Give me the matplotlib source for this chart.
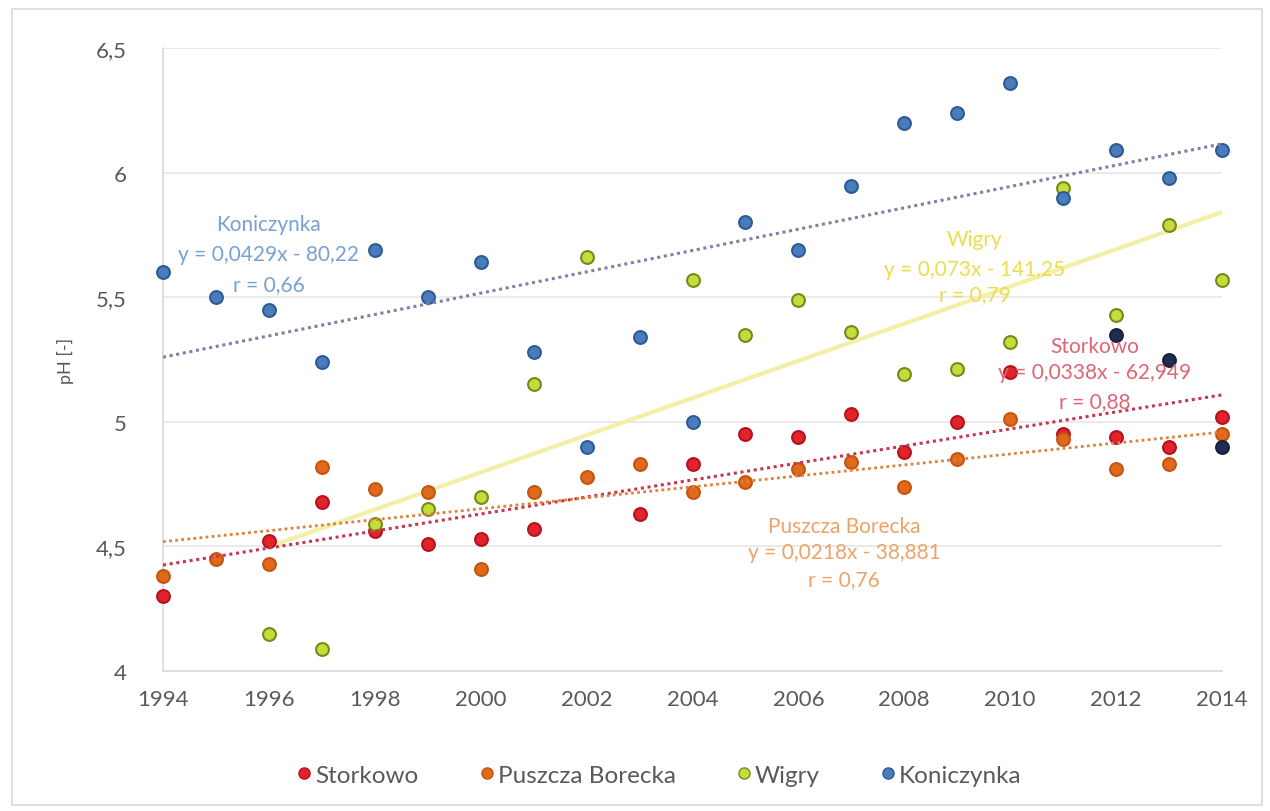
import numpy as np
import matplotlib
matplotlib.use("Agg")
import matplotlib.pyplot as plt
from matplotlib.lines import Line2D
from matplotlib.patches import Rectangle

plt.rcParams['font.family'] = ['Lato', 'DejaVu Sans']

# pH of precipitation at four monitoring stations, 1994-2014
storkowo_years = list(range(1994, 2015))
storkowo_ph = [4.30, None, 4.52, 4.68, 4.56, 4.51, 4.53, 4.57, None, 4.63, 4.83,
               4.95, 4.94, 5.03, 4.88, 5.00, 5.20, 4.95, 4.94, 4.90, 5.02]

borecka_years = list(range(1994, 2015))
borecka_ph = [4.38, 4.45, 4.43, 4.82, 4.73, 4.72, 4.41, 4.72, 4.78, 4.83, 4.72,
              4.76, 4.81, 4.84, 4.74, 4.85, 5.01, 4.93, 4.81, 4.83, 4.95]

wigry_years = [1996, 1997, 1998, 1999, 2000, 2001, 2002, 2004, 2005, 2006,
               2007, 2008, 2009, 2010, 2011, 2012, 2013, 2014]
wigry_ph = [4.15, 4.09, 4.59, 4.65, 4.70, 5.15, 5.66, 5.57, 5.35, 5.49,
            5.36, 5.19, 5.21, 5.32, 5.94, 5.43, 5.79, 5.57]

koniczynka_years = list(range(1994, 2015))
koniczynka_ph = [5.60, 5.50, 5.45, 5.24, 5.69, 5.50, 5.64, 5.28, 4.90, 5.34, 5.00,
                 5.80, 5.69, 5.945, 6.20, 6.24, 6.36, 5.90, 6.09, 5.98, 6.09]

extra_years = [2012, 2013, 2014]
extra_ph = [5.35, 5.25, 4.90]

trend_labels = {
    'Koniczynka': ('Koniczynka', 'y = 0,0429x - 80,22', 'r = 0,66'),
    'Wigry': ('Wigry', 'y = 0,073x - 141,25', 'r = 0,79'),
    'Storkowo': ('Storkowo', 'y = 0,0338x - 62,949', 'r = 0,88'),
    'Borecka': ('Puszcza Borecka', 'y = 0,0218x - 38,881', 'r = 0,76'),
}

x_ticks = list(range(1994, 2015, 2))
y_ticks = [4, 4.5, 5, 5.5, 6, 6.5]
y_tick_labels = ['4', '4,5', '5', '5,5', '6', '6,5']


def clean(years, vals):
    pairs = [(y, v) for y, v in zip(years, vals) if v is not None]
    return np.array([p[0] for p in pairs], float), np.array([p[1] for p in pairs], float)


fig = plt.figure(figsize=(12.7, 8.12), dpi=100)
fig.patches.append(Rectangle((12 / 1270, 6 / 812), 1250 / 1270, 796 / 812,
                             transform=fig.transFigure, fill=False,
                             edgecolor='#d9d9d9', linewidth=1.2))
ax = fig.add_axes([163 / 1270, 1 - 672 / 812, (1222 - 163) / 1270, (672 - 49) / 812])

series = [
    ('Storkowo', storkowo_years, storkowo_ph, '#e3232b', '#b5121c', '#c8364e', (0, (1, 1.2)), 2.2),
    ('Puszcza Borecka', borecka_years, borecka_ph, '#e06a1c', '#c45410', '#e0803a', (0, (1, 1.2)), 2.0),
    ('Wigry', wigry_years, wigry_ph, '#c6dc3a', '#758a1c', '#f4efa6', '-', 3.0),
    ('Koniczynka', koniczynka_years, koniczynka_ph, '#4a7cbc', '#2c5b95', '#7e80a6', (0, (1, 1.2)), 2.2),
]

for name, yrs, vals, fc, ec, lc, ls, lw in series:
    x, y = clean(yrs, vals)
    ax.scatter(x, y, s=85, facecolor=fc, edgecolor=ec, linewidth=1.5,
               zorder=4, clip_on=False)
    k, b = np.polyfit(x, y, 1)
    xt = np.array([x.min(), x.max()])
    ax.plot(xt, k * xt + b, color=lc, linestyle=ls, linewidth=lw,
            zorder=3 if name == 'Wigry' else 5)

ax.scatter(extra_years, extra_ph, s=85, facecolor='#1e2e52', edgecolor='#15203c',
           linewidth=1.5, zorder=4, clip_on=False)

# trend line annotations
ann = [
    ('Koniczynka', 1996.0, [5.795, 5.675, 5.554], '#78a0d4'),
    ('Wigry', 2009.33, [5.735, 5.614, 5.514], '#ecdc4e'),
    ('Storkowo', 2011.6, [5.305, 5.20, 5.084], '#e06474'),
    ('Borecka', 2006.86, [4.582, 4.478, 4.369], '#eaa468'),
]
for key, xc, ys, col in ann:
    for txt, yy in zip(trend_labels[key], ys):
        ax.text(xc, yy, txt, color=col, fontsize=15, ha='center', va='center', zorder=6)

ax.set_xlim(1994, 2014)
ax.set_ylim(4, 6.5)
ax.set_xticks(x_ticks)
ax.set_yticks(y_ticks)
ax.set_yticklabels(y_tick_labels)
ax.tick_params(axis='both', length=0, labelsize=16, colors='#595959')
ax.tick_params(axis='x', pad=13)
ax.tick_params(axis='y', pad=26)
ax.grid(axis='y', color='#e6e6e6', linewidth=1.2, zorder=0)
ax.set_axisbelow(True)
for side in ('top', 'right'):
    ax.spines[side].set_visible(False)
for side in ('left', 'bottom'):
    ax.spines[side].set_color('#d9d9d9')
    ax.spines[side].set_linewidth(1.2)
ax.set_ylabel('pH [-]', fontsize=13, color='#595959', labelpad=16)

handles = [Line2D([], [], marker='o', linestyle='none', markersize=8,
                  markerfacecolor=fc, markeredgecolor=ec, markeredgewidth=1.0,
                  label=name)
           for name, yrs, vals, fc, ec, lc, ls, lw in series]
fig.legend(handles=handles, loc='center', bbox_to_anchor=(658 / 1270, 1 - 776 / 812),
           ncol=4, frameon=False, fontsize=17.5, labelcolor='#595959',
           handletextpad=0.05, columnspacing=2.4, handlelength=0.8)

fig.savefig('out.png', dpi=100)
